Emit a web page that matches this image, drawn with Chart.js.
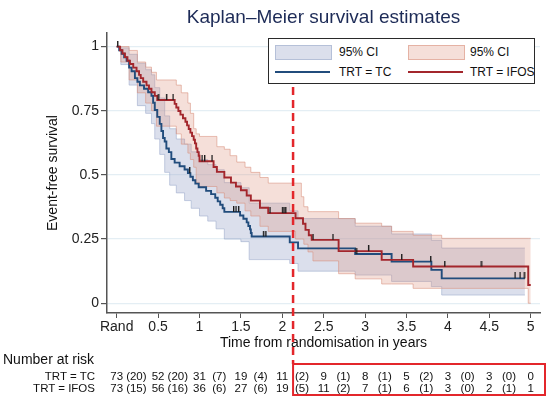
<!DOCTYPE html>
<html>
<head>
<meta charset="utf-8">
<title>Kaplan–Meier survival estimates</title>
<script src="https://cdn.jsdelivr.net/npm/chart.js@4.4.1/dist/chart.umd.min.js"></script>
<style>
  body { margin: 0; background: #fff; font-family: "Liberation Sans", Arial, sans-serif; }
  #wrap { position: relative; width: 548px; height: 397px; overflow: hidden; }
  #km { position: absolute; left: 0; top: 0; }
  .txt { position: absolute; white-space: nowrap; line-height: 1; color: #111; }
  #legend { position: absolute; left: 268px; top: 38px; width: 265px; height: 44px;
            border: 1.6px solid #2a2a2a; background: #fff; }
  .sw { position: absolute; width: 55px; height: 13px; }
  .ln { position: absolute; width: 55px; height: 0; border-top: 2px solid; }
</style>
</head>
<body>
<div id="wrap">
  <canvas id="km" width="548" height="397"></canvas>
  <div id="legend"></div>
</div>
<script>
// axis ticks
const xTicks = [0, 0.5, 1, 1.5, 2, 2.5, 3, 3.5, 4, 4.5, 5];
const yTicks = [0, 0.25, 0.5, 0.75, 1];
const cutoffYear = 2.13;

// KM steps: time in years, survival after the step
const tcTime = [0, 0.03, 0.06, 0.09, 0.12, 0.15, 0.18, 0.22, 0.25, 0.28, 0.33, 0.38, 0.42, 0.44, 0.46, 0.49,
  0.52, 0.54, 0.56, 0.58, 0.60, 0.63, 0.66, 0.70, 0.76, 0.82, 0.86, 0.89, 0.92, 0.95, 0.99, 1.08, 1.14, 1.19,
  1.22, 1.25, 1.28, 1.30, 1.49, 1.53, 1.57, 1.59, 1.61, 1.62, 1.63, 2.09, 2.19, 2.88, 3.32, 3.80, 3.925, 4.93];
const tcSurv = [1, 0.986, 0.972, 0.958, 0.945, 0.918, 0.904, 0.877, 0.863, 0.849, 0.836, 0.822, 0.808, 0.781, 0.753, 0.726,
  0.699, 0.671, 0.644, 0.63, 0.603, 0.589, 0.562, 0.548, 0.534, 0.521, 0.507, 0.493, 0.479, 0.466, 0.452, 0.438, 0.425, 0.411,
  0.397, 0.384, 0.370, 0.356, 0.342, 0.329, 0.315, 0.301, 0.288, 0.274, 0.26, 0.237, 0.214, 0.192, 0.162, 0.130, 0.097, 0.097];

const ifosTime = [0, 0.04, 0.07, 0.10, 0.13, 0.16, 0.20, 0.24, 0.27, 0.29, 0.32, 0.36, 0.39, 0.42, 0.46, 0.49,
  0.70, 0.72, 0.745, 0.77, 0.80, 0.83, 0.85, 0.87, 0.89, 0.91, 0.93, 0.945, 0.96, 0.975, 0.99, 1.00, 1.17, 1.21,
  1.30, 1.38, 1.44, 1.50, 1.57, 1.62, 1.73, 1.83, 2.16, 2.25, 2.28, 2.32, 2.355, 2.68, 3.20, 3.58, 4.97, 5.0];
const ifosSurv = [1, 0.986, 0.973, 0.959, 0.945, 0.932, 0.918, 0.904, 0.89, 0.877, 0.863, 0.849, 0.836, 0.822, 0.808, 0.792,
  0.777, 0.763, 0.749, 0.735, 0.721, 0.707, 0.693, 0.679, 0.665, 0.651, 0.637, 0.623, 0.603, 0.589, 0.575, 0.553, 0.531, 0.512,
  0.49, 0.47, 0.455, 0.44, 0.42, 0.40, 0.372, 0.351, 0.331, 0.31, 0.286, 0.265, 0.247, 0.203, 0.169, 0.143, 0.071, 0.071];

// 95% CI bands
const tcCiTime = [0, 0.05, 0.15, 0.25, 0.35, 0.42, 0.46, 0.52, 0.58, 0.64, 0.72, 0.82, 0.90, 1.00, 1.10, 1.20, 1.30,
  1.50, 1.60, 2.09, 2.19, 2.88, 3.32, 3.80, 3.925, 4.93];
const tcCiUpper = [1, 0.995, 0.97, 0.935, 0.91, 0.89, 0.84, 0.80, 0.73, 0.68, 0.64, 0.62, 0.59, 0.56, 0.54, 0.52, 0.47,
  0.45, 0.39, 0.36, 0.33, 0.30, 0.27, 0.245, 0.215, 0.215];
const tcCiLower = [1, 0.93, 0.85, 0.77, 0.74, 0.70, 0.64, 0.58, 0.51, 0.46, 0.43, 0.40, 0.37, 0.34, 0.32, 0.29, 0.25,
  0.24, 0.17, 0.155, 0.125, 0.11, 0.085, 0.065, 0.032, 0.032];

const ifosCiTime = [0, 0.05, 0.15, 0.25, 0.35, 0.42, 0.48, 0.72, 0.78, 0.86, 0.89, 0.93, 0.96, 1.00, 1.21, 1.30, 1.37,
  1.45, 1.55, 1.62, 1.73, 1.83, 2.16, 2.23, 2.26, 2.31, 2.37, 2.68, 2.88, 3.20, 3.32, 3.58, 3.925, 4.97, 5.0];
const ifosCiUpper = [1, 1.0, 0.985, 0.94, 0.92, 0.90, 0.87, 0.85, 0.82, 0.78, 0.74, 0.68, 0.66, 0.65, 0.61, 0.60, 0.575,
  0.55, 0.53, 0.51, 0.49, 0.468, 0.468, 0.415, 0.376, 0.357, 0.357, 0.33, 0.312, 0.30, 0.28, 0.265, 0.253, 0.253, 0.253];
const ifosCiLower = [1, 0.94, 0.87, 0.82, 0.78, 0.75, 0.69, 0.66, 0.62, 0.585, 0.56, 0.53, 0.47, 0.455, 0.43, 0.41, 0.40,
  0.39, 0.36, 0.34, 0.30, 0.28, 0.25, 0.25, 0.23, 0.20, 0.165, 0.115, 0.095, 0.075, 0.075, 0.058, 0.058, 0, 0];

// censored observations (years)
const tcCensored = [0.88, 1.41, 1.44, 1.47, 1.77, 1.80, 2.89, 3.79, 4.81, 4.87, 4.92];
const ifosCensored = [0.01, 0.50, 0.60, 0.68, 1.03, 1.06, 1.15, 1.85, 2.00, 2.02, 2.04, 2.37, 2.61, 3.04, 3.44, 3.96, 4.40];

// number at risk table
const tcAtRisk = [73, 52, 31, 19, 11, 9, 8, 5, 3, 3, 0];
const tcEvents = [20, 20, 7, 4, 2, 1, 1, 2, 0, 0];
const ifosAtRisk = [73, 56, 36, 27, 19, 11, 7, 6, 3, 2, 1];
const ifosEvents = [15, 16, 6, 6, 5, 2, 1, 1, 0, 1];

const TC_COLOR = '#214c7c';
const IFOS_COLOR = '#a3262c';
const TC_FILL = 'rgba(160,172,205,0.38)';
const TC_EDGE = 'rgba(150,165,200,0.55)';
const IFOS_FILL = 'rgba(222,150,130,0.30)';
const IFOS_EDGE = 'rgba(215,140,120,0.55)';

Chart.defaults.font.family = '"Liberation Sans", Arial, sans-serif';
Chart.defaults.color = '#222';

const toPoints = (xs, ys) => xs.map((x, i) => ({ x: x, y: ys[i] }));

function survAt(times, surv, t) {
    let v = surv[0];
    for (let i = 0; i < times.length; i++) {
        if (times[i] <= t) v = surv[i];
    }
    return v;
}

// small upward tick used for censoring marks
function censorMark() {
    const c = document.createElement('canvas');
    c.width = 3; c.height = 12;
    const g = c.getContext('2d');
    g.fillStyle = '#1a1a1a';
    g.fillRect(1, 0, 1.4, 6);
    return c;
}
const mark = censorMark();

function band(times, vals, edge, fill, fillTo, order) {
    return {
        data: toPoints(times, vals), stepped: true, borderColor: edge, borderWidth: 1,
        backgroundColor: fill, fill: fillTo, pointRadius: 0, order: order
    };
}

const cutoffMarks = {
    id: 'cutoffMarks',
    afterDraw(chart) {
        const ctx = chart.ctx;
        const x = chart.scales.x.getPixelForValue(cutoffYear);
        ctx.save();
        ctx.strokeStyle = '#e3262b';
        ctx.lineWidth = 2.5;
        ctx.setLineDash([8, 5]);
        ctx.beginPath();
        ctx.moveTo(x, 87);
        ctx.lineTo(x, 364);
        ctx.stroke();
        ctx.setLineDash([]);
        ctx.lineWidth = 2;
        ctx.strokeRect(x, 364, 545 - x, 31);
        ctx.restore();
    }
};

const chart = new Chart(document.getElementById('km').getContext('2d'), {
    type: 'line',
    data: {
        datasets: [
            band(tcCiTime, tcCiUpper, TC_EDGE, TC_FILL, '+1', 6),
            band(tcCiTime, tcCiLower, TC_EDGE, TC_FILL, false, 6),
            band(ifosCiTime, ifosCiUpper, IFOS_EDGE, IFOS_FILL, '+1', 5),
            band(ifosCiTime, ifosCiLower, IFOS_EDGE, IFOS_FILL, false, 5),
            { data: toPoints(tcTime, tcSurv), stepped: true, borderColor: TC_COLOR, borderWidth: 1.9,
              pointRadius: 0, fill: false, order: 3 },
            { data: toPoints(ifosTime, ifosSurv), stepped: true, borderColor: IFOS_COLOR, borderWidth: 1.9,
              pointRadius: 0, fill: false, order: 2 },
            { type: 'scatter', data: tcCensored.map(t => ({ x: t, y: survAt(tcTime, tcSurv, t) })),
              pointStyle: mark, pointRadius: 4, order: 1 },
            { type: 'scatter', data: ifosCensored.map(t => ({ x: t, y: survAt(ifosTime, ifosSurv, t) })),
              pointStyle: mark, pointRadius: 4, order: 1 }
        ]
    },
    options: {
        responsive: false,
        animation: false,
        events: [],
        layout: { padding: { left: 45, top: 33, right: 8, bottom: 45 } },
        plugins: { legend: { display: false }, title: { display: false }, tooltip: { enabled: false } },
        scales: {
            x: {
                type: 'linear', min: -0.117, max: 5.112,
                afterBuildTicks: s => { s.ticks = xTicks.map(v => ({ value: v })); },
                afterFit: s => { s.height = 39; },
                ticks: { font: { size: 14 }, color: '#222', padding: 1, maxRotation: 0,
                         callback: v => v === 0 ? 'Rand' : String(v) },
                grid: { drawOnChartArea: false, tickLength: 5, tickColor: '#555' },
                border: { color: '#555', width: 1.5 },
                title: { display: true, text: 'Time from randomisation in years', font: { size: 14 },
                         color: '#111', padding: 0 }
            },
            y: {
                min: -0.038, max: 1.053,
                afterBuildTicks: s => { s.ticks = yTicks.map(v => ({ value: v })); },
                afterFit: s => { s.width = 62; },
                ticks: { font: { size: 14 }, color: '#222', padding: 2, callback: v => String(v) },
                grid: { color: '#e4eef4', lineWidth: 1.2, tickLength: 6, tickColor: '#555' },
                border: { color: '#555', width: 1.5 },
                title: { display: true, text: 'Event-free survival', font: { size: 14 }, color: '#111', padding: 0 }
            }
        }
    },
    plugins: [cutoffMarks]
});

// html text: title, legend and the number-at-risk table
const wrap = document.getElementById('wrap');
function putText(parent, text, x, y, size, align, color) {
    const d = document.createElement('div');
    d.className = 'txt';
    d.textContent = text;
    d.style.fontSize = size + 'px';
    d.style.left = x + 'px';
    d.style.top = y + 'px';
    if (color) d.style.color = color;
    const shift = align === 'center' ? '-50%' : align === 'right' ? '-100%' : '0';
    d.style.transform = 'translate(' + shift + ',-50%)';
    parent.appendChild(d);
    return d;
}

const area = chart.chartArea;
putText(wrap, 'Kaplan–Meier survival estimates', (area.left + area.right) / 2, 16, 19, 'center', '#1d2b57');

const legend = document.getElementById('legend');
function swatch(x, y, fill, edge) {
    const s = document.createElement('div');
    s.className = 'sw';
    s.style.left = x + 'px'; s.style.top = y + 'px';
    s.style.background = fill; s.style.border = '1px solid ' + edge;
    legend.appendChild(s);
}
function lineKey(x, y, color) {
    const s = document.createElement('div');
    s.className = 'ln';
    s.style.left = x + 'px'; s.style.top = y + 'px';
    s.style.borderTopColor = color;
    legend.appendChild(s);
}
swatch(6, 6, TC_FILL, TC_EDGE);
swatch(139, 6, IFOS_FILL, IFOS_EDGE);
lineKey(6, 32, TC_COLOR);
lineKey(139, 32, IFOS_COLOR);
putText(legend, '95% CI', 70, 13, 12, 'left');
putText(legend, '95% CI', 201, 13, 12, 'left');
putText(legend, 'TRT = TC', 70, 33, 12, 'left');
putText(legend, 'TRT = IFOS', 201, 33, 12, 'left');

const xs = chart.scales.x;
putText(wrap, 'Number at risk', 3, 359, 14, 'left');
const rows = [
    { label: 'TRT = TC', atRisk: tcAtRisk, events: tcEvents, y: 377 },
    { label: 'TRT = IFOS', atRisk: ifosAtRisk, events: ifosEvents, y: 388.5 }
];
rows.forEach(r => {
    putText(wrap, r.label, 95, r.y, 11.5, 'right');
    xTicks.forEach((t, i) => {
        putText(wrap, String(r.atRisk[i]), xs.getPixelForValue(t), r.y, 11.5, 'center');
        if (i < r.events.length) {
            const mid = (t + xTicks[i + 1]) / 2;
            putText(wrap, '(' + r.events[i] + ')', xs.getPixelForValue(mid) - 1, r.y, 11.5, 'center');
        }
    });
});
</script>
</body>
</html>
